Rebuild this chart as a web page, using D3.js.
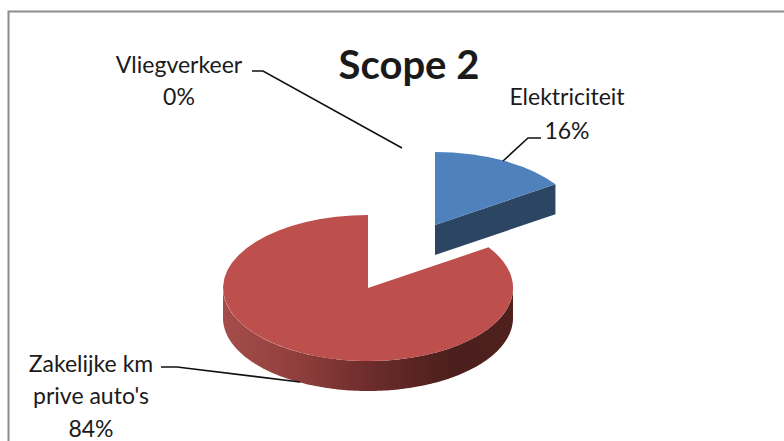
<!DOCTYPE html>
<html>
<head>
<meta charset="utf-8">
<script src="https://cdn.jsdelivr.net/npm/d3@7"></script>
<style>
html, body { margin: 0; padding: 0; background: #fff; }
text { font-family: Lato, sans-serif; fill: #1a1a1a; }
</style>
</head>
<body>
<svg id="chart" width="784" height="441" style="display:block"></svg>
<script>
const title = 'Scope 2'
const categories = ['Elektriciteit', 'Zakelijke km', 'Vliegverkeer']
const values = [15.6, 84.4, 0]
const percentLabels = ['16%', '84%', '0%']

const rx = 145, ry = 73, depth = 30
const center = { x: 368, y: 288 }
const explode = { x: 67, y: -63 }

const svg = d3.select('#chart')

// chart frame: the crop only keeps the top and left edges
svg.append('path')
	.attr('d', d3.line()([[8.5, 441], [8.5, 11.5], [784, 11.5]]))
	.attr('fill', 'none')
	.attr('stroke', '#8c8c8c')
	.attr('stroke-width', 2)

let defs = svg.append('defs')
let grad = defs.append('linearGradient')
	.attr('id', 'redWall')
	.attr('gradientUnits', 'userSpaceOnUse')
	.attr('x1', -rx).attr('x2', rx)
	.attr('y1', 0).attr('y2', 0)
grad.selectAll('stop')
	.data([[0, '#a54d4a'], [0.25, '#903f3d'], [0.45, '#74302f'], [0.65, '#5a2523'], [0.8, '#4b1f1d'], [1, '#4f201e']])
	.join('stop')
	.attr('offset', d => d[0])
	.attr('stop-color', d => d[1])

const pie = d3.pie().sort(null).value(d => d)
const slices = pie(values)

// x runs with sin, y with -cos, same as d3.arc
function rim(angle) {
	return [rx * Math.sin(angle), -ry * Math.cos(angle)]
}

function wallPath(a0, a1) {
	let pts = d3.range(a0, a1, 0.02).concat([a1]).map(rim)
	let bottom = pts.slice().reverse().map(p => [p[0], p[1] + depth])
	return d3.line()(pts.concat(bottom)) + 'Z'
}

const unitArc = d3.arc().innerRadius(0).outerRadius(1)

function drawSlice(slice, off, topColor, wallColor) {
	let g = svg.append('g')
		.attr('transform', 'translate(' + (center.x + off.x) + ',' + (center.y + off.y) + ')')
	// visible part of the outer wall is the front half of the ellipse
	let a0 = Math.max(slice.startAngle, Math.PI / 2)
	let a1 = Math.min(slice.endAngle, Math.PI * 1.5)
	if (a1 > a0) {
		g.append('path').attr('d', wallPath(a0, a1)).attr('fill', wallColor)
	}
	// cut face on the end of the slice, shows when it points at the viewer
	if (slice.endAngle < Math.PI / 2) {
		let p = rim(slice.endAngle)
		g.append('path')
			.attr('d', d3.line()([[0, 0], p, [p[0], p[1] + depth], [0, depth]]) + 'Z')
			.attr('fill', wallColor)
	}
	g.append('path')
		.attr('d', unitArc(slice))
		.attr('transform', 'scale(' + rx + ',' + ry + ')')
		.attr('fill', topColor)
}

drawSlice(slices[0], explode, '#4f81bd', '#2b4563')
drawSlice(slices[1], { x: 0, y: 0 }, '#bd4f4c', 'url(#redWall)')

const leaders = [
	[[503, 161], [528, 138], [541, 138]],
	[[161, 367], [177, 367], [300, 382]],
	[[252, 71], [263, 71], [402, 148]]
]
svg.append('g').selectAll('path')
	.data(leaders)
	.join('path')
	.attr('d', d => d3.line()(d))
	.attr('fill', 'none')
	.attr('stroke', '#111')
	.attr('stroke-width', 1.6)

svg.append('text')
	.attr('x', 409).attr('y', 79)
	.attr('text-anchor', 'middle')
	.attr('font-size', 40)
	.attr('font-weight', 700)
	.text(title)

const labelLines = [
	{ x: 567, ys: [105, 139], lines: [categories[0], percentLabels[0]] },
	{ x: 91, ys: [372, 404, 437], lines: [categories[1], "prive auto's", percentLabels[1]] },
	{ x: 179, ys: [73, 105], lines: [categories[2], percentLabels[2]] }
]
labelLines.forEach(l => {
	l.lines.forEach((t, i) => {
		svg.append('text')
			.attr('x', l.x).attr('y', l.ys[i])
			.attr('text-anchor', 'middle')
			.attr('font-size', 23)
			.text(t)
	})
})
</script>
</body>
</html>
